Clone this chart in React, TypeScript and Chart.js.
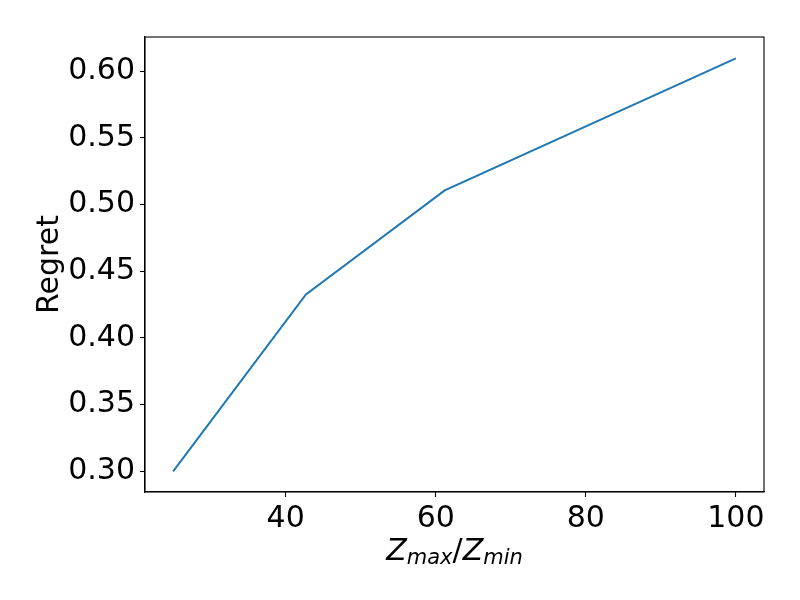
import React, { useEffect, useRef } from "react";
import { Chart, registerables } from "chart.js";

Chart.register(...registerables);

const xValues = [25, 42.7, 61.2, 100];
const regretValues = [0.3, 0.4325, 0.5105, 0.6095];
const xTicks = [40, 60, 80, 100];
const yTicks = [0.3, 0.35, 0.4, 0.45, 0.5, 0.55, 0.6];
const yLabel = "Regret";

const FONT = "'DejaVu Sans', sans-serif";

const framePlugin = {
  id: "frameAndTitles",
  afterDraw(chart: any) {
    const { ctx, chartArea } = chart;
    const { left, right, top, bottom } = chartArea;
    ctx.save();
    ctx.strokeStyle = "#000";
    ctx.lineWidth = 1.1;
    ctx.strokeRect(left, top, right - left, bottom - top);

    // Y title
    ctx.fillStyle = "#000";
    ctx.save();
    ctx.translate(58, (top + bottom) / 2);
    ctx.rotate(-Math.PI / 2);
    ctx.font = `30px ${FONT}`;
    ctx.textAlign = "center";
    ctx.textBaseline = "alphabetic";
    ctx.fillText(yLabel, 0, 0);
    ctx.restore();

    // X title: Z_max / Z_min
    const big = `italic 30px ${FONT}`;
    const small = `italic 21px ${FONT}`;
    const upright = `30px ${FONT}`;
    const parts: [string, string, number][] = [
      ["Z", big, 0],
      ["max", small, 4],
      ["/", upright, 0],
      ["Z", big, 0],
      ["min", small, 4],
    ];
    let total = 0;
    const widths = parts.map(([t, f]) => {
      ctx.font = f;
      const w = ctx.measureText(t).width;
      total += w;
      return w;
    });
    let x = (left + right) / 2 - total / 2;
    const baseY = 560;
    ctx.textAlign = "left";
    ctx.textBaseline = "alphabetic";
    parts.forEach(([t, f, dy], i) => {
      ctx.font = f;
      ctx.fillText(t, x, baseY + dy);
      x += widths[i];
    });
    ctx.restore();
  },
};

export default function App() {
  const ref = useRef<HTMLCanvasElement | null>(null);
  useEffect(() => {
    if (!ref.current) return;
    const chart = new Chart(ref.current, {
      type: "line",
      data: {
        datasets: [
          {
            data: xValues.map((x, i) => ({ x, y: regretValues[i] })),
            borderColor: "#1f77b4",
            borderWidth: 2,
            pointRadius: 0,
            tension: 0,
            fill: false,
          },
        ],
      },
      options: {
        responsive: false,
        devicePixelRatio: 1,
        animation: false,
        layout: { padding: { left: 0, right: 36, top: 37, bottom: 0 } },
        plugins: { legend: { display: false }, tooltip: { enabled: false } },
        scales: {
          x: {
            type: "linear",
            min: 21.25,
            max: 103.75,
            afterFit: (s: any) => {
              s.height = 108;
            },
            afterBuildTicks: (s: any) => {
              s.ticks = xTicks.map((v) => ({ value: v }));
            },
            grid: {
              drawOnChartArea: false,
              drawTicks: true,
              tickLength: 5,
              color: "#000",
              tickWidth: 1.1,
            },
            border: { display: true, color: "#000", width: 1.1 },
            ticks: {
              color: "#000",
              font: { family: FONT, size: 30 },
              padding: 4,
              maxRotation: 0,
              autoSkip: false,
              callback: (v: any) => String(v),
            },
          },
          y: {
            type: "linear",
            min: 0.2845,
            max: 0.6255,
            afterFit: (s: any) => {
              s.width = 145;
            },
            afterBuildTicks: (s: any) => {
              s.ticks = yTicks.map((v) => ({ value: v }));
            },
            grid: {
              drawOnChartArea: false,
              drawTicks: true,
              tickLength: 5,
              color: "#000",
              tickWidth: 1.1,
            },
            border: { display: true, color: "#000", width: 1.1 },
            ticks: {
              color: "#000",
              font: { family: FONT, size: 30 },
              padding: 5,
              autoSkip: false,
              callback: (v: any) => Number(v).toFixed(2),
            },
          },
        },
      },
      plugins: [framePlugin],
    });
    return () => chart.destroy();
  }, []);
  return (
    <div style={{ position: "fixed", left: 0, top: 0, width: 800, height: 600, background: "#fff" }}>
      <canvas ref={ref} width={800} height={600} style={{ display: "block", width: 800, height: 600 }} />
    </div>
  );
}
